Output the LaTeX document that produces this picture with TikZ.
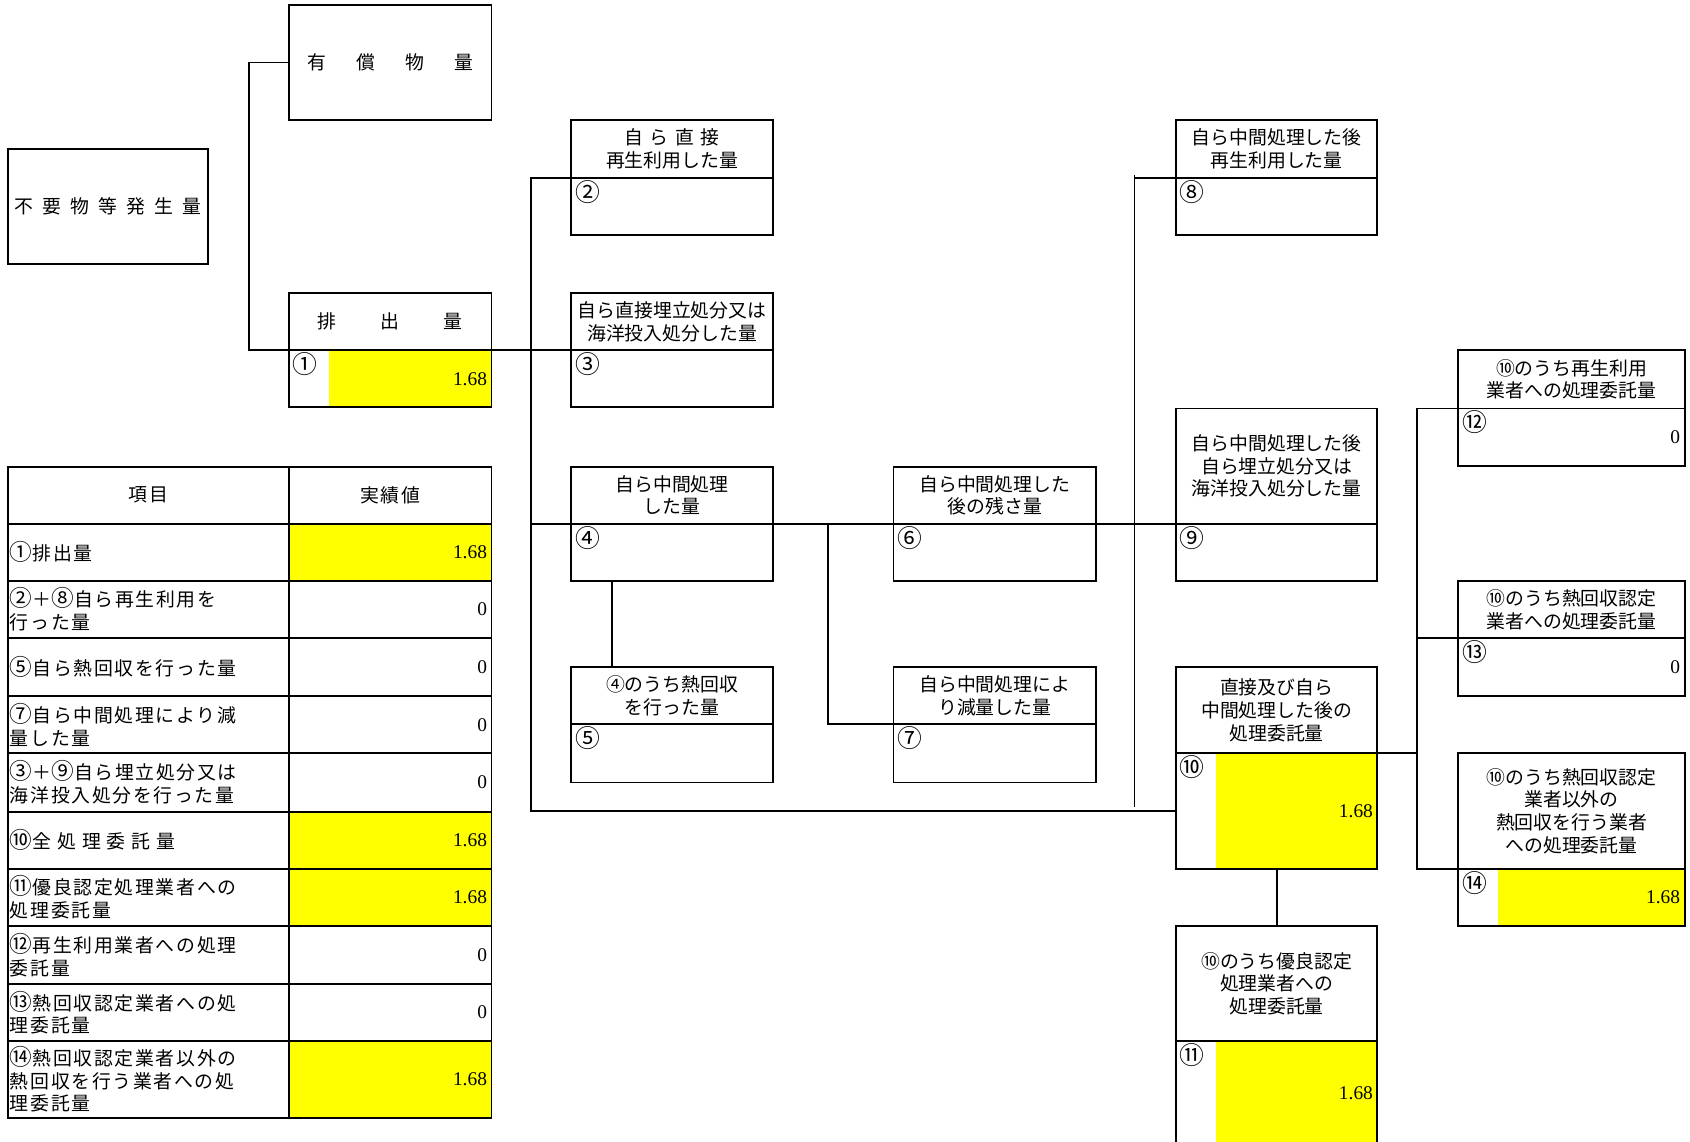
\documentclass[tikz,border=0pt]{standalone}
\usepackage{fontspec}
\setmainfont{Noto Sans CJK JP}
\newfontfamily\jp{Noto Sans CJK JP}
\newfontfamily\jpls{Noto Sans CJK JP}[LetterSpace=9]
\newfontfamily\numf{Liberation Serif}
\usetikzlibrary{fit}
\definecolor{yel}{RGB}{255,255,0}
\newcommand\gp[1]{\hspace*{#1}}
\newcommand\cnum[1]{{\fontsize{21}{21}\selectfont #1}}
\tikzset{
  lw/.style={line width=1.8pt},
  conn/.style={line width=1.8pt},
  thinconn/.style={line width=1pt},
  titlebox/.style={draw, lw, inner sep=0pt, outer sep=0pt},
  titletxt/.style={inner sep=0pt, align=center, font=\jp\fontsize{17.5}{21}\selectfont},
  valbox/.style={draw, lw, inner sep=0pt, outer sep=0pt},
  numlab/.style={inner sep=0pt, font=\jp\fontsize{23}{23}\selectfont},
  valtxt/.style={inner sep=0pt, anchor=east, font=\numf\fontsize{18}{18}\selectfont},
  celltxt/.style={inner sep=0pt, anchor=west, align=left, font=\jpls\fontsize{17.5}{21}\selectfont},
  headtxt/.style={inner sep=0pt, font=\jpls\fontsize{17.5}{21}\selectfont},
}
% name, x1, x2, ytop, ydiv, ybot, title, number, fill
\newcommand\fbx[9]{%
  \coordinate (#1-a) at (#2,#4);
  \coordinate (#1-b) at (#3,#5);
  \coordinate (#1-c) at (#2,#5);
  \coordinate (#1-d) at (#3,#6);
  \node[titlebox, fit=(#1-a)(#1-b)] (#1-t) {};
  \node[titletxt] (#1-l) at (#1-t.center) {#7};
  \fill[#9] ([xshift=37pt]#1-c) rectangle (#1-d);
  \node[valbox, fit=(#1-c)(#1-d)] (#1-v) {};
  \node[numlab] (#1-n) at ([xshift=15pt,yshift=-13pt]#1-c) {#8};
}
\begin{document}
\begin{tikzpicture}[x=1pt,y=-1pt]
\useasboundingbox (0,0) rectangle (1568,1059);

% plain boxes
\coordinate (fu-a) at (7,138); \coordinate (fu-b) at (193,245);
\node[titlebox, fit=(fu-a)(fu-b)] (fu) {};
\node[titletxt] (fu-l) at (fu.center) {不\gp{8.5pt}要\gp{8.5pt}物\gp{8.5pt}等\gp{8.5pt}発\gp{8.5pt}生\gp{8.5pt}量};
\coordinate (yu-a) at (268,5); \coordinate (yu-b) at (456,111);
\node[titlebox, fit=(yu-a)(yu-b)] (yu) {};
\node[titletxt] (yu-l) at (yu.center) {有\gp{28pt}償\gp{28pt}物\gp{28pt}量};

% flow boxes
\fbx{hai}{268}{456}{272}{325}{378}{排\gp{41pt}出\gp{41pt}量}{①}{yel}
\fbx{b2}{530}{717}{111}{165}{218}{自\gp{6pt}ら\gp{6pt}直\gp{6pt}接\\再生利用した量}{②}{white}
\fbx{b3}{530}{717}{272}{325}{378}{自ら直接埋立処分又は\\海洋投入処分した量}{③}{white}
\fbx{b4}{530}{717}{433}{486}{539}{自ら中間処理\\した量}{④}{white}
\fbx{b5}{530}{717}{619}{672}{726}{④のうち熱回収\\を行った量}{⑤}{white}
\fbx{b6}{829}{1017}{433}{486}{539}{自ら中間処理した\\後の残さ量}{⑥}{white}
\fbx{b7}{829}{1017}{619}{672}{726}{自ら中間処理によ\\り減量した量}{⑦}{white}
\fbx{b8}{1091}{1278}{111}{165}{218}{自ら中間処理した後\\再生利用した量}{⑧}{white}
\fbx{b9}{1091}{1278}{379}{486}{539}{自ら中間処理した後\\自ら埋立処分又は\\海洋投入処分した量}{⑨}{white}
\fbx{b10}{1091}{1278}{619}{699}{806}{直接及び自ら\\中間処理した後の\\処理委託量}{⑩}{yel}
\fbx{b11}{1091}{1278}{859}{966}{1075}{⑩のうち優良認定\\処理業者への\\処理委託量}{⑪}{yel}
\fbx{b12}{1353}{1563}{325}{379}{432}{⑩のうち再生利用\\業者への処理委託量}{⑫}{white}
\fbx{b13}{1353}{1563}{539}{592}{646}{⑩のうち熱回収認定\\業者への処理委託量}{⑬}{white}
\fbx{b14}{1353}{1563}{699}{806}{859}{⑩のうち熱回収認定\\業者以外の\\熱回収を行う業者\\への処理委託量}{⑭}{yel}

% values in boxes
\node[valtxt] (hai-x) at ([xshift=-4pt]hai-v.east) {1.68};
\node[valtxt] (b10-x) at ([xshift=-4pt]b10-v.east) {1.68};
\node[valtxt] (b11-x) at ([xshift=-4pt,yshift=6pt]b11-v.east) {1.68};
\node[valtxt] (b12-x) at ([xshift=-4pt]b12-v.east) {0};
\node[valtxt] (b13-x) at ([xshift=-4pt]b13-v.east) {0};
\node[valtxt] (b14-x) at ([xshift=-4pt]b14-v.east) {1.68};

% connectors
\coordinate (j1) at (231,325);
\draw[conn] (yu.west) -| (j1) -- (b3-c);
\coordinate (sx) at (493,0);
\draw[conn] (b2-c) -- (b2-c -| sx) |- (b10-v.west);
\draw[conn] (b4-c -| sx) -- (b9-c);
\coordinate (k7) at (768,486);
\draw[conn] (k7) |- (b7-c);
\draw[conn] ([xshift=38pt]b4-v.south west) -- ([xshift=38pt]b5-t.north west);
\coordinate (v8a) at (1053,162);
\coordinate (v8b) at (1053,749);
\draw[thinconn] (v8a) -- (v8b);
\draw[conn] (b8-c -| v8a) -- (b8-c);
\coordinate (rx) at (1315,0);
\draw[conn] (b12-c) -- (b12-c -| rx) -- (b14-c -| rx) -- (b14-c);
\draw[conn] (b13-c -| rx) -- (b13-c);
\draw[conn] (b10-b) -- (b10-b -| rx);
\draw[conn] (b10-v.south) -- (b11-t.north);

% table
\fill[yel] (268,486) rectangle (456,539);
\fill[yel] (268,753) rectangle (456,859);
\fill[yel] (268,966) rectangle (456,1037);
\draw[lw] (7,433) rectangle (456,1037);
\draw[lw] (268,433) -- (268,1037);
\foreach \y in {486,539,592,646,699,753,806,859,913,966} \draw[lw] (7,\y) -- (456,\y);

\node[headtxt] (h1) at (137.5,459.5) {項目};
\node[headtxt] (h2) at (362,459.5) {実績値};

\node[celltxt] (t1) at (9,512.5) {\cnum{①}排出量};
\node[celltxt] (t2) at (9,565.5) {\cnum{②}＋\cnum{⑧}自ら再生利用を\\行った量};
\node[celltxt] (t3) at (9,619) {\cnum{⑤}自ら熱回収を行った量};
\node[celltxt] (t4) at (9,672.5) {\cnum{⑦}自ら中間処理により減\\量した量};
\node[celltxt] (t5) at (9,726) {\cnum{③}＋\cnum{⑨}自ら埋立処分又は\\海洋投入処分を行った量};
\node[celltxt] (t6) at (9,779.5) {\cnum{⑩}全 処 理 委 託 量};
\node[celltxt] (t7) at (9,832.5) {\cnum{⑪}優良認定処理業者への\\処理委託量};
\node[celltxt] (t8) at (9,886) {\cnum{⑫}再生利用業者への処理\\委託量};
\node[celltxt] (t9) at (9,939.5) {\cnum{⑬}熱回収認定業者への処\\理委託量};
\node[celltxt] (t10) at (9,1001.5) {\cnum{⑭}熱回収認定業者以外の\\熱回収を行う業者への処\\理委託量};

\node[valtxt] (v1) at (452,512.5) {1.68};
\node[valtxt] (v2) at (452,565.5) {0};
\node[valtxt] (v3) at (452,619) {0};
\node[valtxt] (v4) at (452,672.5) {0};
\node[valtxt] (v5) at (452,726) {0};
\node[valtxt] (v6) at (452,779.5) {1.68};
\node[valtxt] (v7) at (452,832.5) {1.68};
\node[valtxt] (v8) at (452,886) {0};
\node[valtxt] (v9) at (452,939.5) {0};
\node[valtxt] (v10) at (452,1001.5) {1.68};
\end{tikzpicture}
\end{document}
